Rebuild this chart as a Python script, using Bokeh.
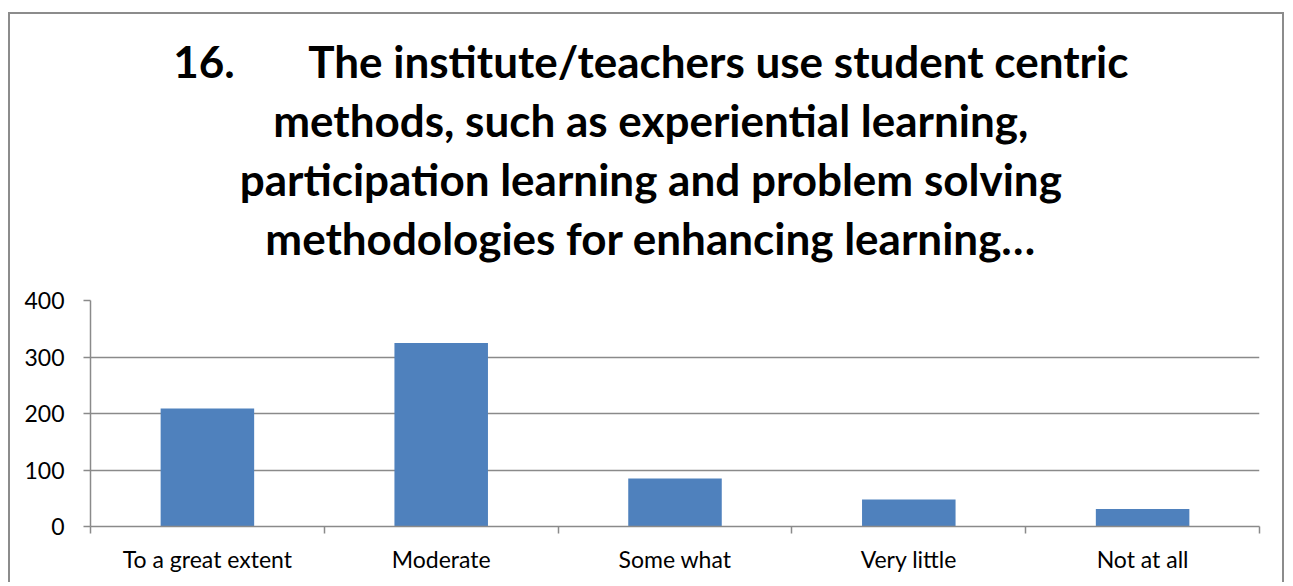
from bokeh.plotting import figure
from bokeh.models import Range1d, FixedTicker, Title, ColumnDataSource
from bokeh.embed import file_html
from bokeh.resources import INLINE

categories = ["To a great extent", "Moderate", "Some what", "Very little", "Not at all"]
counts = [209, 325, 85, 48, 31]
y_ticks = [0, 100, 200, 300, 400]
title_lines = [
    "16.\u00a0\u00a0\u00a0\u00a0\u00a0\u00a0\u00a0The institute/teachers use student centric",
    "methods, such as experiential learning,",
    "participation learning and problem solving",
    "methodologies for enhancing learning\u2026",
]

GRID = "#8a8a8a"
BAR = "#4F81BD"
SHIFT = "\u00a0" * 5  # nudges the centred title towards the canvas centre

xs = [i + 0.5 for i in range(len(categories))]
src = ColumnDataSource(dict(x=xs, top=counts, cat=categories))

p = figure(width=1276, height=570, output_backend="svg", toolbar_location=None,
           x_range=Range1d(0, len(categories)), y_range=Range1d(0, 400),
           min_border_left=80, min_border_right=27, min_border_bottom=58, min_border_top=286)
p.margin = (12, 0, 0, 8)
p.styles = {"border-left": "2px solid #8c8c8c", "border-top": "2px solid #8c8c8c",
            "border-right": "2px solid #8c8c8c"}

p.vbar(x="x", top="top", width=0.4, bottom=0, source=src, fill_color=BAR, line_color=None)

p.outline_line_color = None
p.background_fill_color = "white"
p.border_fill_color = "white"

p.xgrid.grid_line_color = None
p.ygrid.grid_line_color = GRID
p.ygrid.grid_line_width = 1.5
p.ygrid.ticker = FixedTicker(ticks=y_ticks)

p.yaxis.ticker = FixedTicker(ticks=y_ticks)
p.yaxis.axis_line_color = GRID
p.yaxis.axis_line_width = 1.5
p.yaxis.major_tick_line_color = GRID
p.yaxis.major_tick_line_width = 1.5
p.yaxis.major_tick_out = 7
p.yaxis.major_tick_in = 0
p.yaxis.minor_tick_line_color = None
p.yaxis.major_label_standoff = 19
p.yaxis.major_label_text_font = "Lato"
p.yaxis.major_label_text_font_size = "23px"
p.yaxis.major_label_text_color = "black"

p.xaxis.ticker = FixedTicker(ticks=xs, minor_ticks=list(range(len(categories) + 1)))
p.xaxis.major_label_overrides = {x: c for x, c in zip(xs, categories)}
p.xaxis.axis_line_color = GRID
p.xaxis.axis_line_width = 1.5
p.xaxis.major_tick_line_color = None
p.xaxis.major_tick_out = 0
p.xaxis.major_tick_in = 0
p.xaxis.minor_tick_line_color = GRID
p.xaxis.minor_tick_line_width = 1.5
p.xaxis.minor_tick_out = 7
p.xaxis.minor_tick_in = 0
p.xaxis.major_label_standoff = 11
p.xaxis.major_label_text_font = "Lato"
p.xaxis.major_label_text_font_size = "23px"
p.xaxis.major_label_text_color = "black"

# invisible spacer between the title block and the plot frame
p.add_layout(Title(text="\u00a0", text_font="Lato", text_font_size="29px",
                   standoff=0, padding=0), "above")
for line in reversed(title_lines):
    t = Title(text=line + SHIFT, align="center", text_font="Lato", text_font_size="44px",
              text_font_style="bold", text_color="black",
              standoff=0, padding=(5, 0, 5, 0))
    p.add_layout(t, "above")

open("out.html", "w").write(file_html(p, INLINE))
